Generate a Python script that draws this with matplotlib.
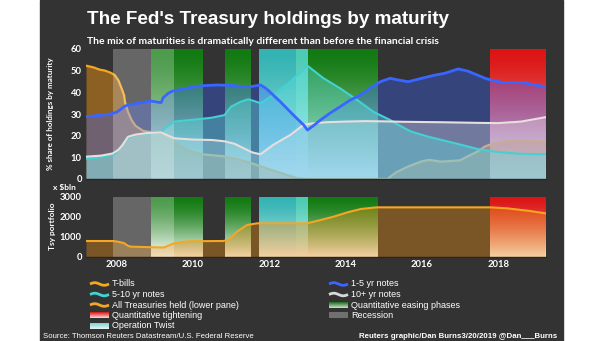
import numpy as np
import matplotlib
matplotlib.use('Agg')
import matplotlib.pyplot as plt
from matplotlib.colors import to_rgb
from matplotlib.patches import Rectangle

# ---------------- data (decimal years) ----------------
tbill_t = [2007.20, 2007.40, 2007.55, 2007.70, 2007.85, 2007.95, 2008.05, 2008.15, 2008.20, 2008.22,
           2008.30, 2008.40, 2008.50, 2008.70, 2008.95, 2009.20, 2009.50, 2009.75, 2010.00, 2010.30,
           2010.80, 2011.20, 2011.50, 2012.00, 2012.40, 2012.75, 2013.00, 2015.10, 2015.30, 2015.60,
           2016.00, 2016.20, 2016.50, 2017.00, 2017.20, 2017.45, 2017.65, 2017.85, 2018.20, 2018.60, 2019.23]
tbill_v = [52.3, 51.5, 50.5, 50.0, 49.0, 48.0, 45.5, 41.0, 38.5, 35.5,
           31.0, 27.0, 24.5, 22.2, 21.5, 21.3, 17.5, 14.5, 12.5, 11.3,
           10.5, 9.0, 7.5, 4.5, 2.2, 0.3, 0.0, 0.0, 2.8, 5.5,
           8.2, 8.8, 8.0, 8.6, 10.5, 12.6, 15.0, 16.3, 17.5, 18.0, 17.2]

n15_t = [2007.20, 2007.50, 2007.70, 2007.90, 2008.00, 2008.10, 2008.20, 2008.30, 2008.60, 2008.90,
         2009.10, 2009.17, 2009.22, 2009.35, 2009.45, 2009.80, 2010.20, 2010.64, 2011.00, 2011.35,
         2011.50, 2011.77, 2011.90, 2012.00, 2012.10, 2012.30, 2012.55, 2012.75, 2012.90, 2013.00,
         2013.15, 2013.34, 2013.60, 2013.86, 2014.10, 2014.39, 2014.65, 2014.91, 2015.17, 2015.35,
         2015.64, 2016.00, 2016.30, 2016.60, 2016.95, 2017.20, 2017.45, 2017.65, 2017.90, 2018.10,
         2018.63, 2019.23]
n15_v = [28.8, 29.3, 29.6, 30.3, 30.8, 32.0, 33.4, 34.2, 35.0, 36.0,
         35.4, 35.3, 37.5, 39.5, 40.5, 41.8, 43.0, 43.4, 43.2, 42.6,
         42.6, 43.4, 42.0, 40.5, 38.8, 35.5, 31.0, 27.5, 25.0, 22.6,
         24.5, 27.2, 30.5, 33.4, 36.2, 38.8, 42.0, 44.9, 46.5, 45.8,
         44.9, 46.5, 47.8, 48.8, 50.8, 49.8, 48.0, 46.5, 45.3, 44.6,
         44.5, 42.6]

n510_t = [2007.20, 2007.50, 2007.80, 2007.95, 2008.10, 2008.20, 2008.30, 2008.50, 2008.75, 2009.17,
          2009.30, 2009.52, 2009.80, 2010.20, 2010.50, 2010.83, 2011.00, 2011.26, 2011.45, 2011.60,
          2011.77, 2011.95, 2012.10, 2012.55, 2013.00, 2013.42, 2013.86, 2014.30, 2014.73, 2015.17,
          2015.35, 2015.70, 2016.17, 2016.87, 2017.47, 2017.92, 2018.50, 2019.23]
n510_v = [9.3, 9.8, 10.8, 11.5, 14.5, 17.0, 19.0, 20.3, 21.0, 21.5,
          24.0, 26.5, 27.0, 27.7, 28.3, 29.5, 33.4, 35.7, 36.8, 36.0,
          35.0, 37.0, 38.8, 44.9, 52.3, 46.5, 41.8, 36.5, 31.0, 27.2,
          25.3, 22.0, 19.5, 16.5, 13.8, 12.6, 11.7, 11.4]

n10_t = [2007.20, 2007.60, 2007.90, 2008.05, 2008.15, 2008.30, 2008.50, 2008.80, 2009.17, 2009.35,
         2009.52, 2010.00, 2010.50, 2010.83, 2011.10, 2011.35, 2011.55, 2011.77, 2012.10, 2012.55,
         2012.90, 2013.10, 2013.50, 2014.00, 2014.50, 2015.00, 2015.50, 2016.50, 2017.50, 2018.00,
         2018.60, 2019.23]
n10_v = [10.3, 10.8, 11.8, 13.5, 15.5, 19.5, 20.5, 21.2, 21.5, 20.0,
         18.8, 18.2, 18.0, 17.4, 16.2, 14.0, 12.3, 11.4, 15.7, 20.3,
         25.0, 25.6, 26.2, 26.5, 26.7, 26.6, 26.4, 26.2, 25.9, 25.8,
         26.5, 28.5]

total_t = [2007.20, 2007.92, 2008.05, 2008.19, 2008.30, 2008.37, 2008.90, 2009.24, 2009.40, 2009.50,
           2009.85, 2010.00, 2010.80, 2010.95, 2011.16, 2011.42, 2011.68, 2012.99, 2013.35, 2013.69,
           2014.05, 2014.40, 2014.82, 2017.79, 2018.23, 2018.83, 2019.23]
total_v = [800, 800, 760, 700, 560, 517, 490, 475, 600, 683,
           780, 790, 800, 880, 1267, 1600, 1683, 1683, 1850, 2017,
           2233, 2400, 2483, 2483, 2433, 2300, 2183]

recession = (2007.92, 2009.50)
qe_phases = [(2008.90, 2010.25), (2010.85, 2011.51), (2012.71, 2014.84)]
op_twist = (2011.72, 2012.71)
twist_qe_overlap = (2012.71, 2013.00)
qt_phase = (2017.79, 2019.25)

top_ticks = [0, 10, 20, 30, 40, 50, 60]
bottom_ticks = [0, 1000, 2000, 3000]
year_ticks = [2008, 2010, 2012, 2014, 2016, 2018]

# ---------------- style ----------------
BG = '#333333'
C_TB = '#f5a623'
C_15 = '#3a66ff'
C_510 = '#42d2d2'
C_10 = '#e8dede'
C_QE = '#127a12'
C_OT = '#33b3b3'
C_OTQE = '#4ccbb5'
C_QT = '#dc1414'
NARROW = ['Liberation Sans Narrow', 'Liberation Sans', 'DejaVu Sans']

plt.rcParams['font.family'] = ['Lato', 'DejaVu Sans']
plt.rcParams['font.weight'] = 'bold'

W, H = 605, 341
fig = plt.figure(figsize=(W / 100, H / 100), dpi=100, facecolor='white')

lax = fig.add_axes([0, 0, 1, 1])
lax.set_zorder(0)
lax.axis('off')
lax.add_patch(Rectangle((40, 0), 523, H, color=BG, zorder=0))


def px(x0, y0, x1, y1):
    return [x0 / W, 1 - y1 / H, (x1 - x0) / W, (y1 - y0) / H]


ax1 = fig.add_axes(px(86, 49, 546, 179))
ax2 = fig.add_axes(px(86, 197, 546, 257))
XL = (2007.2, 2019.25)


def grad(top, bottom='white', power=1.5, n=200):
    f = np.linspace(0, 1, n) ** power
    c0 = np.array(to_rgb(top))
    c1 = np.array(to_rgb(bottom))
    return (c0[None, :] * (1 - f[:, None]) + c1[None, :] * f[:, None])[:, None, :]


def band(ax, span, ymax, top):
    ax.imshow(grad(top), extent=[span[0], span[1], 0, ymax], aspect='auto',
              origin='upper', zorder=0.5, interpolation='bilinear')


for ax, ymax in ((ax1, 60), (ax2, 3000)):
    ax.set_zorder(1)
    ax.patch.set_alpha(0)
    for s in qe_phases:
        band(ax, s, ymax, C_QE)
    band(ax, op_twist, ymax, C_OT)
    band(ax, twist_qe_overlap, ymax, C_OTQE)
    band(ax, qt_phase, ymax, C_QT)
    ax.axvspan(*recession, color='white', alpha=0.25, lw=0, zorder=2)
    ax.set_xlim(*XL)
    ax.set_ylim(0, ymax)
    for sp in ('top', 'right', 'left'):
        ax.spines[sp].set_visible(False)
    ax.spines['bottom'].set_color('#262626')
    ax.spines['bottom'].set_linewidth(1.0)
    ax.tick_params(length=0, colors='white', labelsize=6.8, pad=3)

# top pane series
ax1.fill_between(tbill_t, tbill_v, color=(0.9, 0.55, 0.08), alpha=0.5, lw=0, zorder=1.0)
ax1.plot(tbill_t, tbill_v, color=C_TB, lw=1.6, zorder=1.05)
ax1.fill_between(n15_t, n15_v, color=C_15, alpha=0.35, lw=0, zorder=1.2)
ax1.fill_between(n10_t, n10_v, color='#f0e8ec', alpha=0.33, lw=0, zorder=1.3)
ax1.fill_between(n510_t, n510_v, color='#5ee0e0', alpha=0.38, lw=0, zorder=1.4)
ax1.plot(n510_t, n510_v, color=C_510, lw=1.5, zorder=3.0)
ax1.plot(n10_t, n10_v, color=C_10, lw=1.5, zorder=3.1)
ax1.plot(n15_t, n15_v, color=C_15, lw=2.0, zorder=3.2)
ax1.set_yticks(top_ticks)
ax1.set_xticks([])

# bottom pane
ax2.fill_between(total_t, total_v, color=(0.9, 0.55, 0.08), alpha=0.4, lw=0, zorder=1.0)
ax2.plot(total_t, total_v, color=C_TB, lw=1.5, zorder=3)
ax2.set_yticks(bottom_ticks)
ax2.set_xticks(year_ticks)
ax2.set_xticklabels([str(y) for y in year_ticks])
ax2.tick_params(axis='x', pad=2)

# ---------------- texts ----------------
lax.text(87, 24, "The Fed's Treasury holdings by maturity", color='white', fontsize=13.6,
         fontweight='bold', family=NARROW, va='baseline', ha='left')
lax.text(87, 44, "The mix of maturities is dramatically different than before the financial crisis",
         color='white', fontsize=7.5, fontweight='bold', va='baseline', ha='left')
lax.text(50, 114, '% share of holdings by maturity', color='white', fontsize=5.8,
         rotation=90, ha='center', va='center')
lax.text(64, 187, 'x $bln', color='white', fontsize=6, ha='center', va='center')
lax.text(52, 226, 'Tsy portfolio', color='white', fontsize=6, rotation=90,
         ha='center', va='center')


def wave(x0, yc, color):
    xs = np.linspace(0, 19, 40)
    lax.plot(x0 + xs, yc - 1.3 * np.sin(xs / 19 * 2 * np.pi), color=color, lw=2.0,
             solid_capstyle='butt', zorder=2)


def rect_icon(x0, yc, top, bottom, power=1.0):
    lax.imshow(grad(top, bottom, power), extent=[x0, x0 + 19, yc + 3, yc - 3],
               aspect='auto', origin='upper', zorder=2, interpolation='bilinear')


rows = [284, 294.5, 305, 315.5, 326]
left_items = [('T-bills', 'w', C_TB), ('5-10 yr notes', 'w', C_510),
              ('All Treasuries held (lower pane)', 'w', C_TB),
              ('Quantitative tightening', 'r', (C_QT, '#f4e0e0')),
              ('Operation Twist', 'r', ('#7fd0d0', '#e8f6f6'))]
right_items = [('1-5 yr notes', 'w', C_15), ('10+ yr notes', 'w', '#d8d8d8'),
               ('Quantitative easing phases', 'r', ('#1d6b1d', '#cfe6cf')),
               ('Recession', 'r', ('#707070', '#707070'))]
for (lab, kind, col), yc in zip(left_items, rows):
    if kind == 'w':
        wave(90, yc, col)
    else:
        rect_icon(90, yc, *col)
    lax.text(112, yc, lab, color='white', fontsize=6.5, family=NARROW, fontweight='normal',
             va='center', ha='left')
for (lab, kind, col), yc in zip(right_items, rows):
    if kind == 'w':
        wave(329, yc, col)
    else:
        rect_icon(329, yc, *col)
    lax.text(351, yc, lab, color='white', fontsize=6.5, family=NARROW, fontweight='normal',
             va='center', ha='left')

lax.text(43, 336, 'Source: Thomson Reuters Datastream/U.S. Federal Reserve', color='white',
         fontsize=5.6, family=NARROW, fontweight='normal', va='center', ha='left')
lax.text(557, 336, 'Reuters graphic/Dan Burns3/20/2019 @Dan___Burns', color='white',
         fontsize=5.7, family=NARROW, fontweight='bold', va='center', ha='right')

lax.set_xlim(0, W)
lax.set_ylim(H, 0)

fig.savefig('out.png', dpi=100, facecolor='white')
